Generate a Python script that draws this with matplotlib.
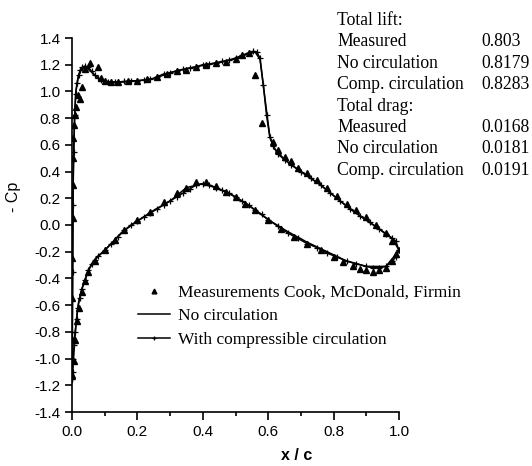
#!/usr/bin/env python3

import matplotlib
matplotlib.use('Agg')
import matplotlib.pyplot as plt
from matplotlib.ticker import MultipleLocator

# -Cp distribution over the airfoil, upper and lower surface

# computed, with compressible circulation
cc_x_up = [0.0, 0.001, 0.002, 0.003, 0.005, 0.008, 0.011, 0.015, 0.02, 0.025, 0.03, 0.04,
           0.05, 0.06, 0.07, 0.08, 0.09, 0.1, 0.11, 0.12, 0.13, 0.14, 0.16, 0.18, 0.2, 0.22,
           0.24, 0.26, 0.28, 0.3, 0.32, 0.34, 0.36, 0.38, 0.4, 0.42, 0.44, 0.46, 0.48, 0.5,
           0.52, 0.54, 0.555, 0.565, 0.575, 0.585, 0.595, 0.605, 0.615, 0.63, 0.65, 0.67,
           0.7, 0.73, 0.76, 0.79, 0.82, 0.85, 0.88, 0.91, 0.94, 0.96, 0.98, 0.99, 1.0]
cc_cp_up = [-1.15, -0.8, -0.35, 0.15, 0.55, 0.82, 0.98, 1.06, 1.12, 1.16, 1.18, 1.19,
            1.18, 1.15, 1.12, 1.10, 1.085, 1.075, 1.07, 1.07, 1.07, 1.07, 1.075, 1.08, 1.08,
            1.085, 1.09, 1.11, 1.13, 1.14, 1.155, 1.165, 1.175, 1.185, 1.20, 1.205, 1.215,
            1.225, 1.235, 1.25, 1.27, 1.29, 1.30, 1.295, 1.25, 1.05, 0.82, 0.66, 0.59, 0.53,
            0.49, 0.45, 0.40, 0.35, 0.30, 0.24, 0.18, 0.12, 0.07, 0.02, -0.03, -0.07, -0.10,
            -0.12, -0.19]
cc_x_lo = [0.0, 0.002, 0.004, 0.007, 0.01, 0.014, 0.018, 0.023, 0.03, 0.04, 0.05, 0.06,
           0.07, 0.08, 0.1, 0.12, 0.14, 0.16, 0.18, 0.2, 0.22, 0.24, 0.26, 0.28, 0.3, 0.32,
           0.34, 0.36, 0.38, 0.4, 0.42, 0.44, 0.46, 0.48, 0.5, 0.52, 0.54, 0.56, 0.58, 0.6,
           0.63, 0.66, 0.69, 0.72, 0.75, 0.78, 0.81, 0.84, 0.87, 0.9, 0.92, 0.94, 0.96, 0.98,
           0.99, 1.0]
cc_cp_lo = [-1.15, -1.1, -1.0, -0.9, -0.8, -0.7, -0.62, -0.55, -0.48, -0.41, -0.34, -0.29,
            -0.26, -0.23, -0.19, -0.14, -0.09, -0.04, 0.0, 0.03, 0.06, 0.09, 0.12, 0.15, 0.18,
            0.21, 0.24, 0.27, 0.30, 0.31, 0.30, 0.28, 0.26, 0.24, 0.21, 0.18, 0.15, 0.11, 0.08,
            0.04, -0.01, -0.06, -0.10, -0.14, -0.17, -0.21, -0.24, -0.27, -0.29, -0.31, -0.32,
            -0.32, -0.31, -0.27, -0.24, -0.19]

# computed, no circulation
nc_x = [1.0, 0.96, 0.9, 0.84, 0.78, 0.72, 0.66, 0.6, 0.55, 0.5, 0.45, 0.4, 0.35, 0.3, 0.25,
        0.2, 0.15, 0.1, 0.07, 0.05, 0.03, 0.02, 0.014, 0.008, 0.003, 0.0,
        0.001, 0.002, 0.004, 0.008, 0.012, 0.02, 0.03, 0.04, 0.05, 0.07, 0.09, 0.12, 0.15,
        0.2, 0.25, 0.3, 0.35, 0.4, 0.45, 0.5, 0.54, 0.56, 0.575, 0.59, 0.605, 0.62, 0.65,
        0.7, 0.76, 0.82, 0.88, 0.94, 0.98, 1.0]
nc_cp = [-0.19, -0.31, -0.31, -0.27, -0.20, -0.13, -0.05, 0.04, 0.13, 0.21, 0.27, 0.31,
         0.28, 0.18, 0.11, 0.03, -0.06, -0.19, -0.26, -0.34, -0.48, -0.58, -0.7, -0.85, -1.05,
         -1.15, -0.8, -0.35, 0.4, 0.8, 1.0, 1.12, 1.17, 1.18, 1.17, 1.12, 1.085, 1.07, 1.07,
         1.08, 1.095, 1.14, 1.17, 1.195, 1.215, 1.245, 1.285, 1.295, 1.24, 0.95, 0.66, 0.57,
         0.49, 0.40, 0.30, 0.18, 0.07, -0.03, -0.10, -0.19]

# measurements Cook, McDonald, Firmin
meas_x = [0.0, 0.0, 0.001, 0.001, 0.002, 0.002, 0.003, 0.004, 0.006, 0.009, 0.013, 0.018,
          0.024, 0.03, 0.04, 0.055, 0.08, 0.09, 0.1, 0.12, 0.14, 0.17, 0.2, 0.23, 0.26, 0.29,
          0.32, 0.35, 0.38, 0.41, 0.44, 0.47, 0.5, 0.52, 0.54, 0.56, 0.58, 0.615, 0.63, 0.65,
          0.67, 0.69, 0.72, 0.75, 0.78, 0.81, 0.84, 0.87, 0.9, 0.93, 0.96, 0.98,
          0.005, 0.01, 0.015, 0.02, 0.03, 0.04, 0.05, 0.07, 0.1, 0.13, 0.16, 0.2, 0.24, 0.28,
          0.32, 0.35, 0.38, 0.41, 0.44, 0.47, 0.5, 0.53, 0.56, 0.6, 0.64, 0.68, 0.72, 0.76,
          0.8, 0.83, 0.86, 0.88, 0.9, 0.92, 0.94, 0.96, 0.98, 0.99]
meas_cp = [-1.12, -0.85, -0.55, -0.25, 0.05, 0.3, 0.5, 0.65, 0.75, 0.82, 0.88, 0.97,
           0.94, 1.03, 1.17, 1.21, 1.18, 1.1, 1.08, 1.07, 1.07, 1.08, 1.08, 1.09, 1.11, 1.13,
           1.15, 1.16, 1.18, 1.2, 1.21, 1.22, 1.24, 1.27, 1.29, 1.12, 0.76, 0.62, 0.56, 0.51,
           0.48, 0.43, 0.39, 0.34, 0.28, 0.22, 0.16, 0.11, 0.06, 0.0, -0.06, -0.12,
           -1.02, -0.86, -0.72, -0.62, -0.5, -0.42, -0.35, -0.27, -0.19, -0.11, -0.04, 0.04,
           0.1, 0.17, 0.24, 0.28, 0.32, 0.32, 0.29, 0.25, 0.21, 0.16, 0.11, 0.04, -0.03,
           -0.09, -0.14, -0.19, -0.24, -0.28, -0.31, -0.33, -0.34, -0.35, -0.34, -0.32,
           -0.27, -0.22]

lift_rows = [('Measured', '0.803'), ('No circulation', '0.8179'),
             ('Comp. circulation', '0.8283')]
drag_rows = [('Measured', '0.0168'), ('No circulation', '0.0181'),
             ('Comp. circulation', '0.0191')]

serif = 'Liberation Serif'
sans = 'Liberation Sans'

fig = plt.figure(figsize=(5.32, 4.66), dpi=100)
ax = fig.add_axes([72 / 532, 1 - 412 / 466, 327 / 532, 374 / 466])

ax.plot(meas_x, meas_cp, linestyle='none', marker='^', markersize=4.3, color='black',
        label='Measurements Cook, McDonald, Firmin')
ax.plot(nc_x, nc_cp, color='black', linewidth=1.1, label='No circulation')
ax.plot(cc_x_up, cc_cp_up, color='black', linewidth=1.1, marker='+', markersize=4,
        markeredgewidth=0.9, label='With compressible circulation')
ax.plot(cc_x_lo, cc_cp_lo, color='black', linewidth=1.1, marker='+', markersize=4,
        markeredgewidth=0.9)

ax.set_xlim(0.0, 1.0)
ax.set_ylim(-1.4, 1.4)
ax.xaxis.set_major_locator(MultipleLocator(0.2))
ax.xaxis.set_minor_locator(MultipleLocator(0.1))
ax.yaxis.set_major_locator(MultipleLocator(0.2))
ax.spines['top'].set_visible(False)
ax.spines['right'].set_visible(False)
for s in ('left', 'bottom'):
    ax.spines[s].set_linewidth(1.2)
ax.tick_params(axis='x', which='major', direction='out', length=6, width=1.2, pad=3)
ax.tick_params(axis='x', which='minor', direction='out', length=3, width=1.2)
ax.tick_params(axis='y', which='major', direction='out', length=5, width=1.2, pad=3)
ax.set_xticks(ax.get_xticks())
ax.set_xticklabels(['%.1f' % v for v in ax.get_xticks()], family=sans, fontsize=11)
ax.set_yticks(ax.get_yticks())
ax.set_yticklabels(['%.1f' % v for v in ax.get_yticks()], family=sans, fontsize=11)
ax.set_xlim(0.0, 1.0)
ax.set_ylim(-1.4, 1.4)

ax.set_xlabel('x / c', family=sans, fontsize=11.5, fontweight='bold')
ax.xaxis.set_label_coords((297 - 72) / 327, -0.095)
ax.set_ylabel('- Cp', family=sans, fontsize=11.5)
ax.yaxis.set_label_coords(-0.155, (412 - 197) / 374)

ax.legend(loc='upper left', bbox_to_anchor=(129 / 532, 1 - 276 / 466),
          bbox_transform=fig.transFigure, frameon=False, numpoints=1, markerscale=0.8,
          handlelength=1.85, handletextpad=0.45, labelspacing=0.42, borderpad=0,
          prop={'family': serif, 'size': 12.5})

# lift / drag table at the top right
base = 25
step = 21.4
rows = [('Total lift:', '')] + lift_rows + [('Total drag:', '')] + drag_rows
for i, (name, val) in enumerate(rows):
    yy = 1 - (base + step * i) / 466
    fig.text(337 / 532, yy, name, family=serif, fontsize=12.7, va='baseline')
    if val:
        fig.text(481 / 532, yy, val, family=serif, fontsize=12.7, va='baseline')

fig.savefig('out.png', dpi=100)
plt.close(fig)
